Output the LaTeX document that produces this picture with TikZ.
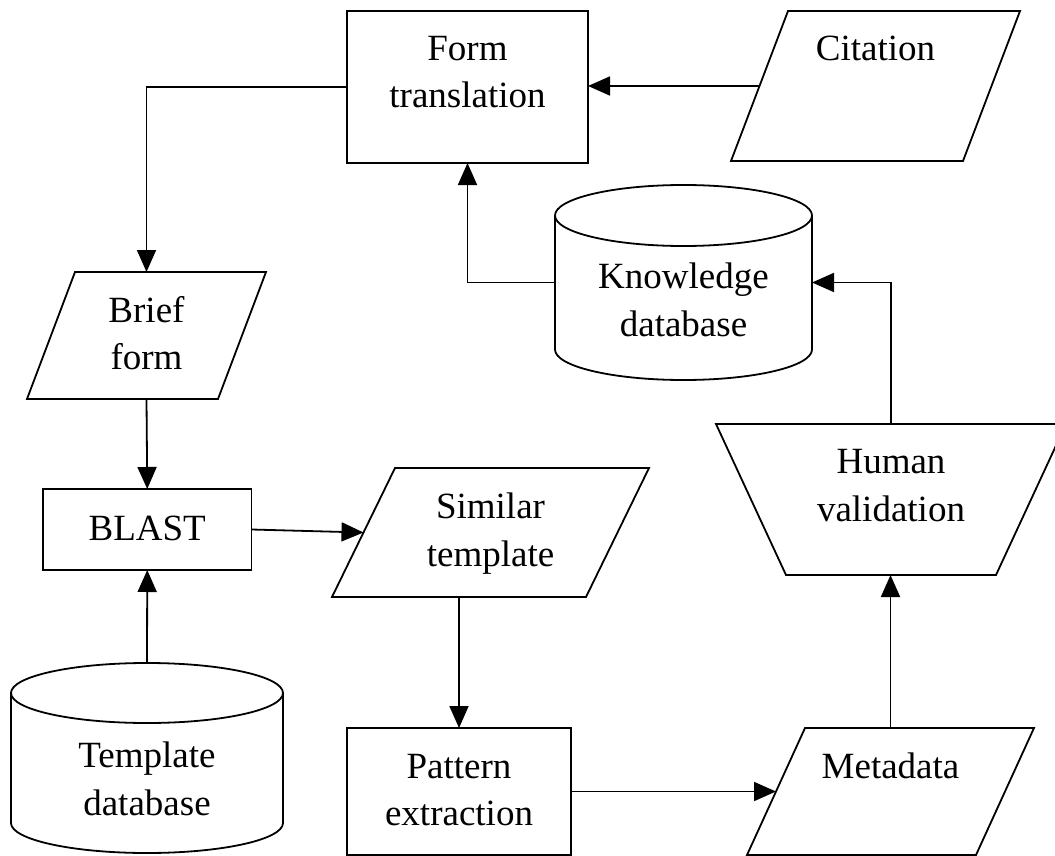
\documentclass[tikz,border=0pt]{standalone}
\usepackage{fontspec}
\setmainfont{Liberation Serif}
\usetikzlibrary{arrows.meta}
\begin{document}
\begin{tikzpicture}[x=1pt,y=-1pt,line width=1.8pt,
  box/.style={rectangle,inner sep=0pt,outer sep=0pt},
  boxed/.style={box,draw,line width=1.8pt},
  txt/.style={font=\fontsize{37}{47.5}\selectfont,align=center,inner sep=0pt},
  outline/.style={draw,line width=1.8pt,line join=miter},
  conn/.style={draw,line width=1.8pt,-{Triangle[length=22pt,width=19pt]}}]
\useasboundingbox (0,0) rectangle (1055,856);

% rectangles
\node[boxed,minimum width=241pt,minimum height=152pt,
  label={[txt,yshift=15pt]center:{Form\\translation}}] (ft) at (467.5,87) {};
\node[boxed,minimum width=208.5pt,minimum height=81pt,
  label={[txt,yshift=1.5pt]center:{BLAST}}] (blast) at (147.25,529.5) {};
\node[boxed,minimum width=224pt,minimum height=127pt,
  label={[txt,yshift=1.5pt]center:{Pattern\\extraction}}] (pe) at (459,791.5) {};

% parallelograms (frames)
\node[box,minimum width=289pt,minimum height=150pt,
  label={[txt,yshift=37.5pt]center:{Citation}}] (cit) at (875.5,86) {};
\node[box,minimum width=239pt,minimum height=127pt,
  label={[txt,yshift=2.5pt]center:{Brief\\form}}] (bf) at (146.5,335.5) {};
\node[box,minimum width=317pt,minimum height=129pt,
  label={[txt,yshift=-1pt]center:{Similar\\template}}] (st) at (490.5,532.5) {};
\node[box,minimum width=287pt,minimum height=127pt,
  label={[txt,yshift=26pt]center:{Metadata}}] (md) at (890.5,791.5) {};

% trapezoid (frame)
\node[box,minimum width=350pt,minimum height=151pt,
  label={[txt,yshift=14pt]center:{Human\\validation}}] (hv) at (891,499.5) {};

% cylinders (frames)
\node[box,minimum width=257pt,minimum height=195pt,
  label={[txt,yshift=-17.5pt]center:{Knowledge\\database}}] (kdb) at (683.5,282.5) {};
\node[box,minimum width=272pt,minimum height=190pt,
  label={[txt,yshift=-21pt]center:{Template\\database}}] (tdb) at (147,758) {};

% outlines
\draw[outline] ([xshift=57pt]cit.north west) -- (cit.north east) -- ([xshift=-57pt]cit.south east) -- (cit.south west) -- cycle;
\draw[outline] ([xshift=48pt]bf.north west) -- (bf.north east) -- ([xshift=-48pt]bf.south east) -- (bf.south west) -- cycle;
\draw[outline] ([xshift=63pt]st.north west) -- (st.north east) -- ([xshift=-63pt]st.south east) -- (st.south west) -- cycle;
\draw[outline] ([xshift=58pt]md.north west) -- (md.north east) -- ([xshift=-58pt]md.south east) -- (md.south west) -- cycle;
\draw[outline] (hv.north west) -- (hv.north east) -- ([xshift=-70pt]hv.south east) -- ([xshift=70pt]hv.south west) -- cycle;

\draw[outline] ([yshift=-30.5pt]kdb.north) ellipse [x radius=128.5pt,y radius=30.5pt];
\draw[outline] ([yshift=-30.5pt]kdb.north west) -- ([yshift=30.5pt]kdb.south west)
  arc [start angle=180,end angle=360,x radius=128.5pt,y radius=30.5pt] -- ([yshift=-30.5pt]kdb.north east);
\draw[outline] ([yshift=-30pt]tdb.north) ellipse [x radius=136pt,y radius=30pt];
\draw[outline] ([yshift=-30pt]tdb.north west) -- ([yshift=30pt]tdb.south west)
  arc [start angle=180,end angle=360,x radius=136pt,y radius=30pt] -- ([yshift=-30pt]tdb.north east);

% connector end points on slanted sides
\coordinate (citL) at ([xshift=28.5pt]cit.west);
\coordinate (stL) at ([xshift=31.5pt]st.west);
\coordinate (mdL) at ([xshift=29pt]md.west);

% connectors
\draw[conn] (citL) -- (citL -| ft.east);
\draw[conn] (ft.west) -| (bf.north);
\draw[conn] (kdb.west) -| (ft.south);
\draw[conn] (hv.north) |- (kdb.east);
\draw[conn] (bf.south) -- (blast.north);
\draw[conn] (tdb.north) -- (blast.south);
\draw[conn] (blast.east) -- (stL);
\draw[conn] (pe.north |- st.south) -- (pe.north);
\draw[conn] (pe.east) -- (pe.east -| mdL);
\draw[conn] (md.north) -- (md.north |- hv.south);
\end{tikzpicture}
\end{document}
